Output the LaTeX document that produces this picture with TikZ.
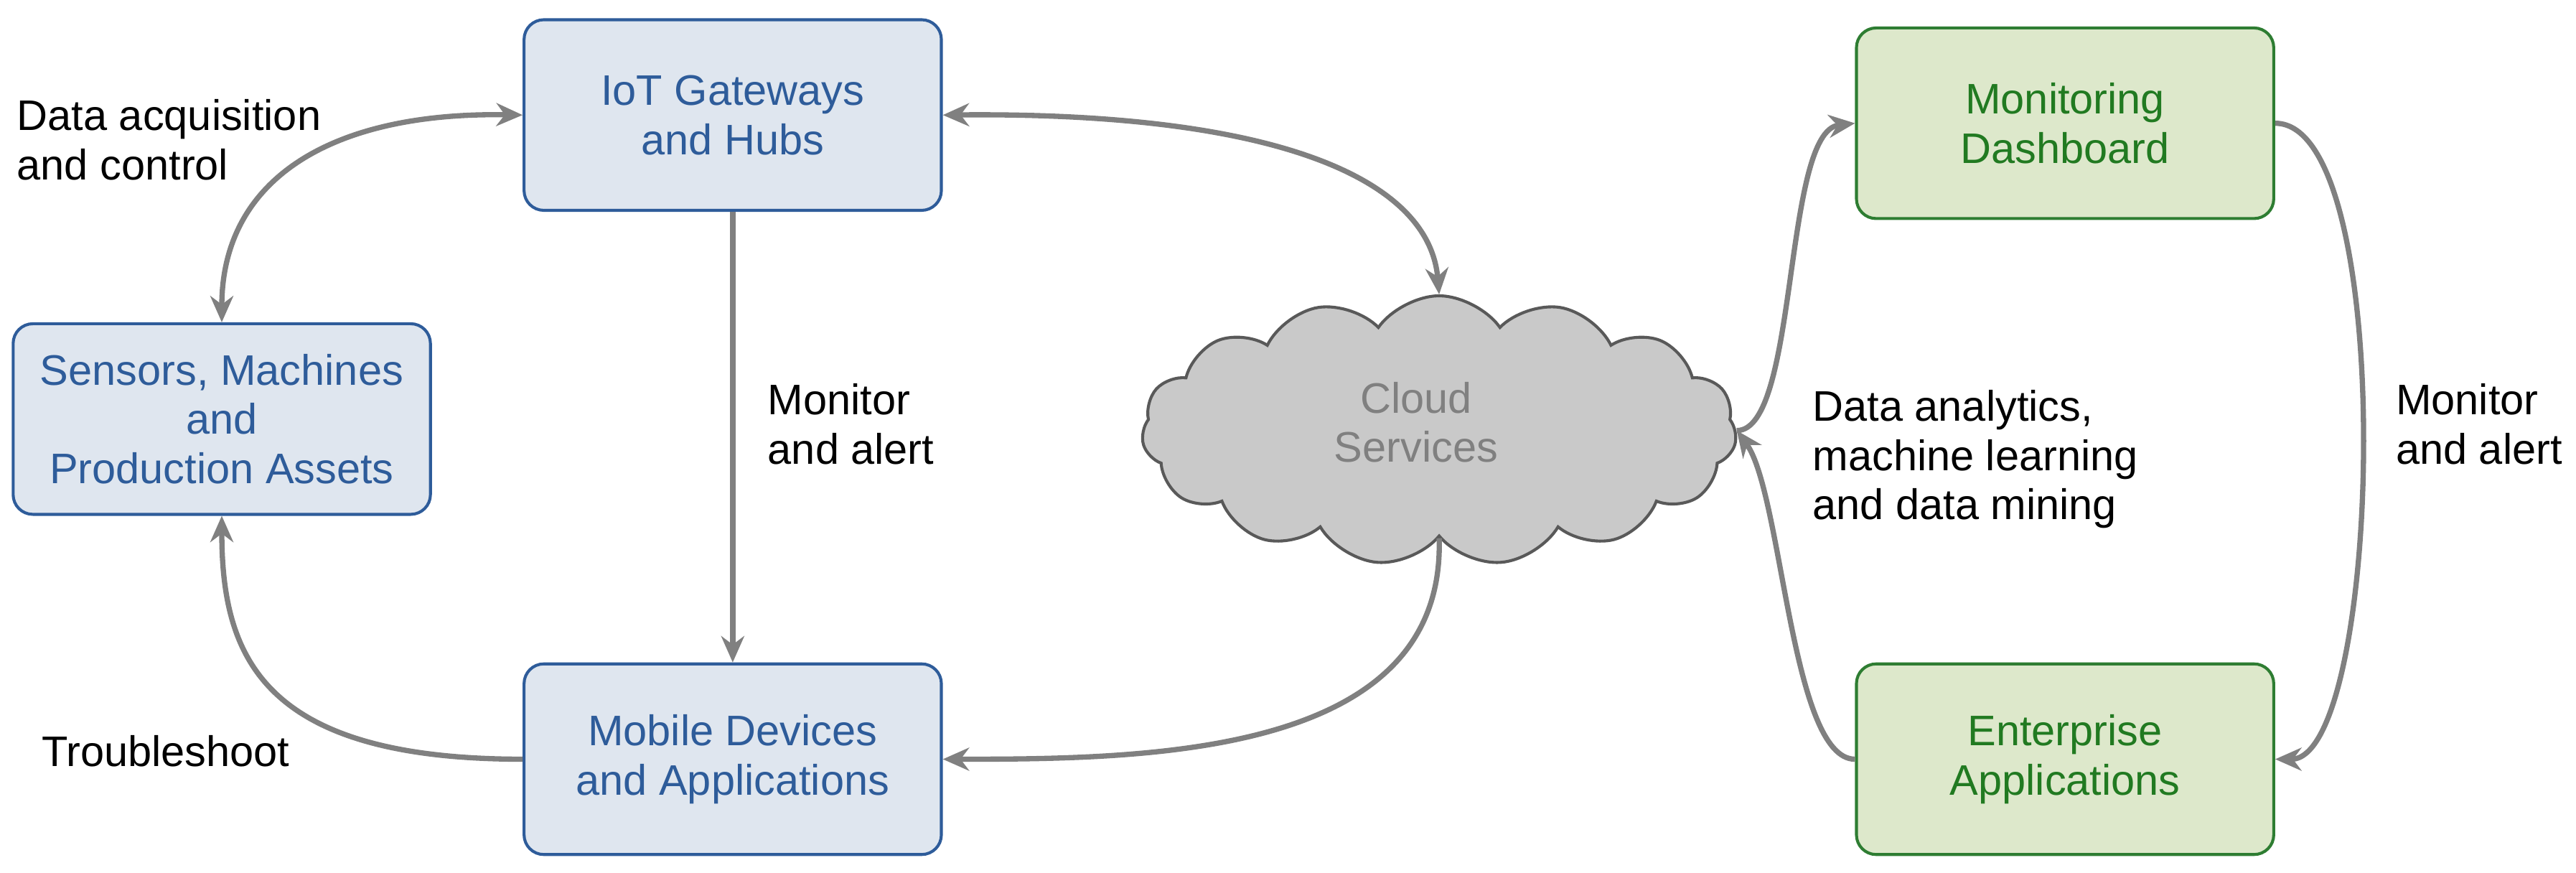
\documentclass[tikz,border=0pt]{standalone}
\usepackage{fontspec}
\setmainfont{Liberation Sans}
\usetikzlibrary{shapes.symbols,arrows.meta}
\definecolor{bfill}{HTML}{DFE6EF}\definecolor{bline}{HTML}{2E5C9A}
\definecolor{gfill}{HTML}{DDE8CB}\definecolor{gline}{HTML}{2E7D32}\definecolor{gtext}{HTML}{217A21}
\definecolor{arr}{HTML}{808080}
\begin{document}
\begin{tikzpicture}[x=0.5pt,y=-0.5pt,font=\fontsize{13}{15}\selectfont,
 box/.style={rounded corners=6pt,minimum width=127pt,minimum height=58pt,align=center,line width=0.9pt},
 blue/.style={box,fill=bfill,draw=bline,text=bline},
 green/.style={box,fill=gfill,draw=gline,text=gtext},
 con/.style={draw=arr,line width=1.6pt,-{Stealth[length=8pt,width=7pt]}},
 bcon/.style={con,{Stealth[length=8pt,width=7pt]}-{Stealth[length=8pt,width=7pt]}},
 lab/.style={align=left,anchor=north west,inner sep=0pt}]
\useasboundingbox (0,0) rectangle (1568,531);
\node[blue] (iot) at (446,70) {IoT Gateways\\and Hubs};
\node[blue] (sen) at (135,255) {Sensors, Machines\\and\\Production Assets};
\node[blue] (mob) at (446,462) {Mobile Devices\\and Applications};
\node[green] (mon) at (1257,75) {Monitoring\\Dashboard};
\node[green] (ent) at (1257,462) {Enterprise\\Applications};
\node[cloud,cloud puffs=15,cloud puff arc=110,aspect=2.2,minimum width=181pt,minimum height=82pt,fill=black!21,draw=black!65,line width=0.9pt] (cl) at (876,262) {};
\node[text=black!50,align=center] (clt) at (862,257) {Cloud\\Services};
\draw[bcon] (iot.west) .. controls (200,68) and (135,110) .. (sen.north);
\draw[con] (iot.south) -- (mob.north);
\draw[bcon] (iot.east) .. controls (780,68) and (870,110) .. (cl.north);
\draw[con] (cl.south) .. controls (880,460) and (700,462) .. (mob.east);
\draw[con] (mob.west) .. controls (160,462) and (135,400) .. (sen.south);
\draw[con] (cl.east) .. controls (1095,262) and (1085,80) .. (mon.west);
\draw[con] (ent.west) .. controls (1090,462) and (1085,300) .. (cl.east);
\draw[con] (mon.east) .. controls (1460,75) and (1450,462) .. (ent.east);
\node[lab] (l1) at (10,60) {Data acquisition\\and control};
\node[lab] (l2) at (467,233) {Monitor\\and alert};
\node[lab] (l3) at (25,447) {Troubleshoot};
\node[lab] (l4) at (1103,237) {Data analytics,\\machine learning\\and data mining};
\node[lab] (l5) at (1458,233) {Monitor\\and alert};
\end{tikzpicture}
\end{document}
